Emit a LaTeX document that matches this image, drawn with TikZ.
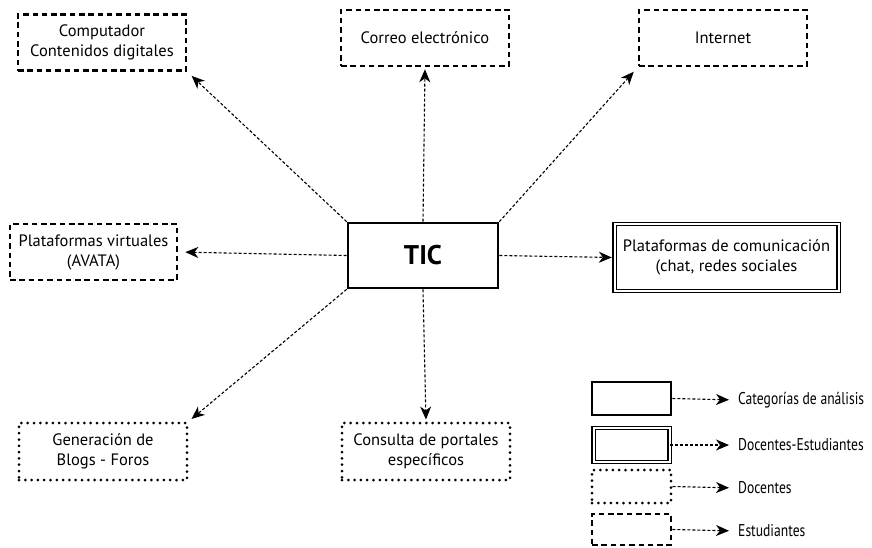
\documentclass[tikz,border=0pt]{standalone}
\usepackage{fontspec}
\setmainfont{PT Sans}
\newfontfamily\narrowfont[FakeStretch=0.8]{PT Sans}
\usetikzlibrary{arrows.meta}

\tikzset{
  caja/.style={minimum width=168pt, minimum height=56pt, align=center, font=\fontsize{16.5}{20}\selectfont, inner sep=2pt},
  estudiante/.style={caja, draw, line width=2.6pt, dash pattern=on 5.5pt off 3.8pt},
  docente/.style={caja, draw, line width=3pt, dash pattern=on 0pt off 6.3pt, line cap=round},
  ambos/.style={caja, draw, line width=1.3pt, double, double distance=2pt},
  categoria/.style={caja, draw, line width=2.6pt},
  flecha/.style={dash pattern=on 3pt off 2pt, line width=1.1pt, -{Stealth[length=13pt,width=11pt,inset=4pt]}, shorten >=2pt},
  leyenda/.style={anchor=west, inner sep=0pt, font=\narrowfont\fontsize{17}{20}\selectfont}
}

\begin{document}
\begin{tikzpicture}[x=1pt,y=-1pt]
                \useasboundingbox (0,0) rectangle (872,547);

                % categoria central
                \node[categoria, minimum width=150pt, minimum height=65pt, font=\bfseries\fontsize{27}{30}\selectfont] (tic) at (423,255.5) {TIC};

                % nodos
                \node[estudiante] (computador) at (102,42.5) {Computador\\Contenidos digitales};
                \node[estudiante] (correo) at (425,38) {Correo electrónico};
                \node[estudiante] (internet) at (723,38) {Internet};
                \node[estudiante, minimum width=167pt] (virtuales) at (93.5,252) {Plataformas virtuales\\(AVATA)};
                \node[ambos, minimum width=224pt, minimum height=67pt] (comunicacion) at (726.5,257.5) {Plataformas de comunicación\\(chat, redes sociales};
                \node[docente, minimum height=57pt] (blogs) at (103,451.5) {Generación de\\Blogs - Foros};
                \node[docente, minimum height=57pt] (portales) at (426,451.5) {Consulta de portales\\específicos};

                % conexiones
                \draw[flecha, shorten >=6pt] (tic.north west) -- (computador.south east);
                \draw[flecha] (tic.north) -- (correo.south);
                \draw[flecha, shorten >=6pt] (tic.north east) -- (internet.south west);
                \draw[flecha, shorten >=7pt] (tic.west) -- (virtuales.east);
                \draw[flecha] (tic.east) -- (comunicacion.west);
                \draw[flecha, shorten >=4pt] (tic.south west) -- (blogs.north east);
                \draw[flecha] (tic.south) -- (portales.north);

                % leyenda
                \node[categoria, minimum width=79pt, minimum height=33pt] (l1) at (631.5,398.5) {};
                \node[ambos, minimum width=76pt, minimum height=34pt] (l2) at (631.5,445) {};
                \node[docente, minimum width=79pt, minimum height=33pt] (l3) at (631.5,486.5) {};
                \node[estudiante, minimum width=79pt, minimum height=31pt] (l4) at (631.5,529.5) {};

                \node[leyenda] (t1) at (738,400) {Categorías de análisis};
                \node[leyenda] (t2) at (738,445) {Docentes-Estudiantes};
                \node[leyenda] (t3) at (738,488) {Docentes};
                \node[leyenda] (t4) at (738,531) {Estudiantes};

                \draw[flecha, shorten >=9pt] (l1.east) -- (t1.west);
                \draw[flecha, shorten >=9pt] (l2.east) -- (t2.west);
                \draw[flecha, shorten >=9pt] (l3.east) -- (t3.west);
                \draw[flecha, shorten >=9pt] (l4.east) -- (t4.west);
\end{tikzpicture}
\end{document}
